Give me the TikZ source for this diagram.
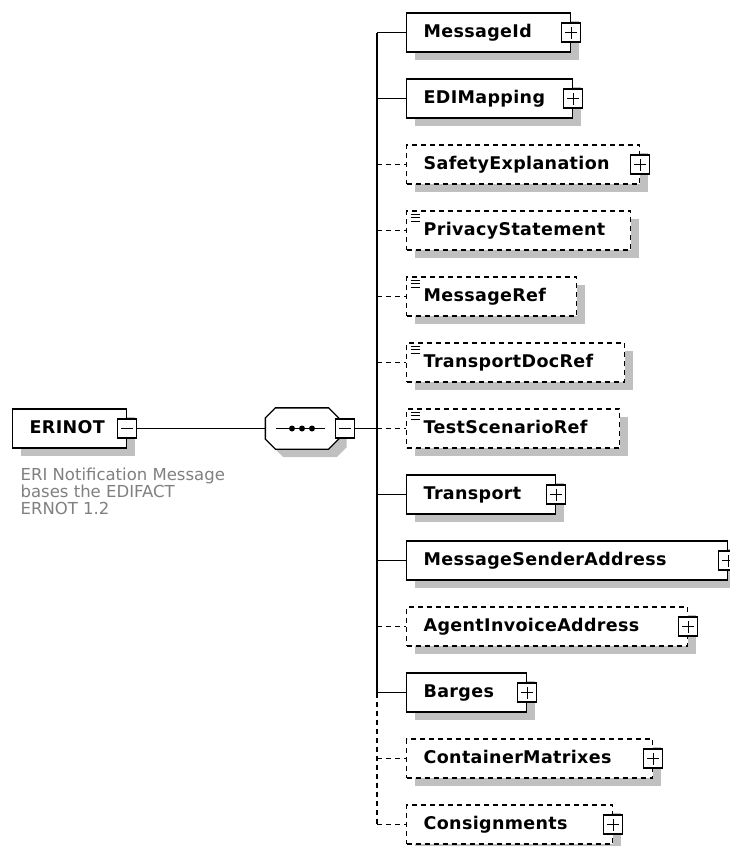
\documentclass[tikz,border=0pt]{standalone}
\usepackage{fontspec}
\setmainfont{DejaVu Sans}
\newfontfamily\xsdbold[LetterSpace=2]{DejaVu Sans Bold}
\usetikzlibrary{shadows}
\definecolor{shadegray}{RGB}{192,192,192}
\definecolor{docgray}{RGB}{128,128,128}

\begin{document}
\begin{tikzpicture}[x=1pt, y=-1pt, line width=1.3pt,
    boxshadow/.style={general shadow={fill=shadegray, shadow xshift=8pt, shadow yshift=-8pt}},
    elem/.style={draw, fill=white, rectangle, anchor=west, minimum height=39pt,
      inner xsep=17pt, inner ysep=0pt, text height=12.5pt, text depth=3.5pt, align=left,
      font=\xsdbold\fontsize{17.5}{20}\selectfont, boxshadow},
    optelem/.style={elem, dash pattern=on 5pt off 4pt},
    simpleelem/.style={optelem, path picture={
      \foreach \d in {3pt,6.5pt,10pt}
        \draw[solid, black, line width=1pt] ([xshift=4pt, yshift=-\d]path picture bounding box.north west) -- +(9pt,0pt);}},
    toggle/.style={draw, solid, fill=white, rectangle, minimum size=19pt, inner sep=0pt, line width=1.1pt},
    expander/.style={toggle, path picture={
      \draw[black, line width=1.1pt] ([xshift=-6pt]path picture bounding box.center) -- ([xshift=6pt]path picture bounding box.center)
        ([yshift=-6pt]path picture bounding box.center) -- ([yshift=6pt]path picture bounding box.center);}},
    collapser/.style={toggle, path picture={
      \draw[black, line width=1.1pt] ([xshift=-6pt]path picture bounding box.center) -- ([xshift=6pt]path picture bounding box.center);}},
    seqbox/.style={rectangle, minimum width=72pt, minimum height=40pt, inner sep=0pt},
    optlink/.style={dash pattern=on 5pt off 4pt},
    doc/.style={text=docgray, font=\fontsize{16.5}{17}\selectfont, align=left, inner sep=0pt, anchor=north west}]

    \useasboundingbox[fill=white] (0,0) rectangle (729,846);

    % root element and its annotation
    \node[elem, text width=80pt] (erinot) at (12,428.5) {ERINOT};
    \node[collapser] (erinotminus) at (erinot.east) {};
    \node[doc] (erinotdoc) at (20,467) {ERI Notification Message\\bases the EDIFACT\\ERNOT 1.2};

    % sequence compositor (octagon)
    \node[seqbox] (seq) at (302,428.5) {};
    \draw[fill=white, boxshadow] ([xshift=10pt]seq.north west) -- ([xshift=-10pt]seq.north east)
      -- ([yshift=-10pt]seq.north east) -- ([yshift=10pt]seq.south east)
      -- ([xshift=-10pt]seq.south east) -- ([xshift=10pt]seq.south west)
      -- ([yshift=10pt]seq.south west) -- ([yshift=-10pt]seq.north west) -- cycle;
    \draw ([xshift=-26pt]seq.center) -- ([xshift=23pt]seq.center);
    \fill ([xshift=-10pt]seq.center) circle (3pt) (seq.center) circle (3pt) ([xshift=10pt]seq.center) circle (3pt);
    \node[collapser] (seqminus) at (345,428.5) {};
    \coordinate (trunk) at (377,428.5);

    % children
    \node[elem, text width=130pt] (messageid) at (406,32.5) {MessageId};
    \node[elem, text width=132pt] (edimapping) at (406,98.5) {EDIMapping};
    \node[optelem, text width=199pt] (safetyexplanation) at (406,164.5) {SafetyExplanation};
    \node[simpleelem, text width=190pt] (privacystatement) at (406,230.5) {PrivacyStatement};
    \node[simpleelem, text width=136pt] (messageref) at (406,296.5) {MessageRef};
    \node[simpleelem, text width=184pt] (transportdocref) at (406,362.5) {TransportDocRef};
    \node[simpleelem, text width=179pt] (testscenarioref) at (406,428.5) {TestScenarioRef};
    \node[elem, text width=115pt] (transport) at (406,494.5) {Transport};
    \node[elem, text width=287pt] (messagesenderaddress) at (406,560.5) {MessageSenderAddress};
    \node[optelem, text width=247pt] (agentinvoiceaddress) at (406,626.5) {AgentInvoiceAddress};
    \node[elem, text width=86pt] (barges) at (406,692.5) {Barges};
    \node[optelem, text width=212pt] (containermatrixes) at (406,758.5) {ContainerMatrixes};
    \node[optelem, text width=172pt] (consignments) at (406,824.5) {Consignments};

    \node[expander] (messageidplus) at (messageid.east) {};
    \node[expander] (edimappingplus) at (edimapping.east) {};
    \node[expander] (safetyexplanationplus) at (safetyexplanation.east) {};
    \node[expander] (transportplus) at (transport.east) {};
    \node[expander] (messagesenderaddressplus) at (messagesenderaddress.east) {};
    \node[expander] (agentinvoiceaddressplus) at (agentinvoiceaddress.east) {};
    \node[expander] (bargesplus) at (barges.east) {};
    \node[expander] (containermatrixesplus) at (containermatrixes.east) {};
    \node[expander] (consignmentsplus) at (consignments.east) {};

    % connectors
    \draw (erinotminus) -- (seq);
    \draw (seqminus) -- (trunk);
    \draw (messageid -| trunk) -- (barges -| trunk);
    \draw[optlink] (barges -| trunk) -- (consignments -| trunk);
    \draw (messageid -| trunk) -- (messageid);
    \draw (edimapping -| trunk) -- (edimapping);
    \draw[optlink] (safetyexplanation -| trunk) -- (safetyexplanation);
    \draw[optlink] (privacystatement -| trunk) -- (privacystatement);
    \draw[optlink] (messageref -| trunk) -- (messageref);
    \draw[optlink] (transportdocref -| trunk) -- (transportdocref);
    \draw[optlink] (testscenarioref -| trunk) -- (testscenarioref);
    \draw (transport -| trunk) -- (transport);
    \draw (messagesenderaddress -| trunk) -- (messagesenderaddress);
    \draw[optlink] (agentinvoiceaddress -| trunk) -- (agentinvoiceaddress);
    \draw (barges -| trunk) -- (barges);
    \draw[optlink] (containermatrixes -| trunk) -- (containermatrixes);
    \draw[optlink] (consignments -| trunk) -- (consignments);
\end{tikzpicture}
\end{document}
